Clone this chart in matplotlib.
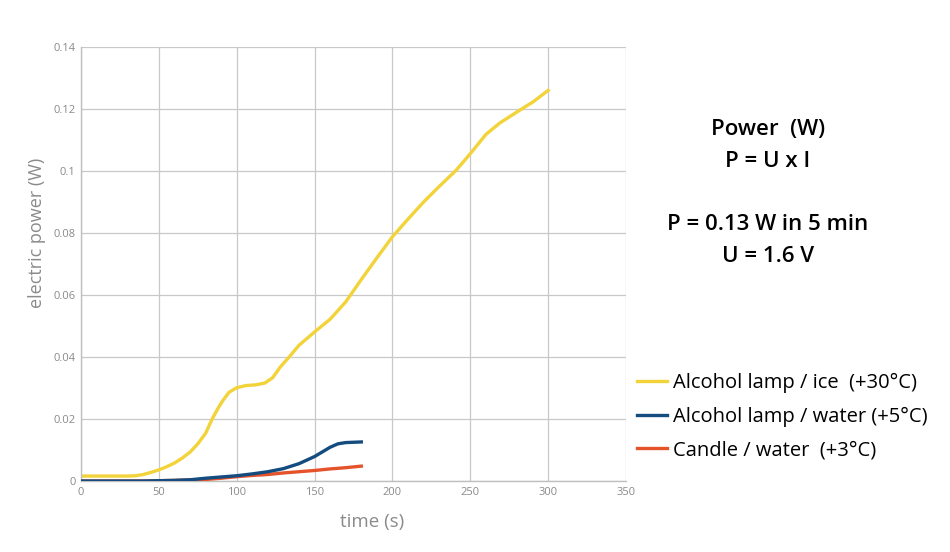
import numpy as np
import matplotlib.pyplot as plt

plt.rcParams['font.family'] = ['Open Sans', 'DejaVu Sans']

# values
t_ice = [0, 10, 20, 30, 35, 40, 45, 50, 55, 60, 65, 70, 75, 80, 84, 88, 91,
         95, 100, 106, 112, 118, 123, 128, 134, 140, 150, 160, 170, 180, 190,
         200, 210, 220, 230, 241, 251, 260, 269, 282, 290, 300]
p_ice = [0.0016, 0.0016, 0.0016, 0.0016, 0.0017, 0.0021, 0.0028, 0.0036,
         0.0046, 0.0058, 0.0074, 0.0093, 0.0120, 0.0154, 0.0198, 0.0235,
         0.0259, 0.0286, 0.0301, 0.0308, 0.0310, 0.0316, 0.0333, 0.0368,
         0.0402, 0.0438, 0.0481, 0.0522, 0.0578, 0.0650, 0.0720, 0.0788,
         0.0845, 0.0900, 0.0950, 0.1003, 0.1062, 0.1118, 0.1155, 0.1197,
         0.1222, 0.1260]

t_water = [0, 20, 40, 50, 60, 70, 80, 90, 100, 110, 120, 130, 140, 150,
           155, 160, 165, 170, 175, 180]
p_water = [0.0, 0.0, 0.0, 0.0001, 0.0002, 0.0004, 0.0009, 0.0013, 0.0017,
           0.0023, 0.0030, 0.0040, 0.0056, 0.0079, 0.0094, 0.0109, 0.0120,
           0.0124, 0.0125, 0.0126]

t_candle = [0, 20, 40, 60, 80, 90, 100, 110, 120, 130, 140, 150, 160, 170, 180]
p_candle = [0.0, 0.0, 0.0, 0.0002, 0.0005, 0.0009, 0.0014, 0.0018, 0.0021,
            0.0026, 0.0030, 0.0034, 0.0039, 0.0043, 0.0048]

labels = ['Alcohol lamp / ice  (+30°C)',
          'Alcohol lamp / water (+5°C)',
          'Candle / water  (+3°C)']
colors = ['#F2D33A', '#144C80', '#E5532B']

x_ticks = np.arange(0, 351, 50)
y_ticks = [0, 0.02, 0.04, 0.06, 0.08, 0.1, 0.12, 0.14]
y_tick_labels = ['0', '0.02', '0.04', '0.06', '0.08', '0.1', '0.12', '0.14']

note_lines = ['Power  (W)', 'P = U x I', 'P = 0.13 W in 5 min', 'U = 1.6 V']
note_rows = [130, 161, 224, 256]  # pixel rows of the note lines

fig = plt.figure(figsize=(9.5, 5.52), dpi=100)
ax = fig.add_axes([0.0853, 0.1286, 0.5737, 0.7863])

ax.plot(t_ice, p_ice, color=colors[0], lw=2.4, label=labels[0])
ax.plot(t_water, p_water, color=colors[1], lw=2.4, label=labels[1], zorder=4)
ax.plot(t_candle, p_candle, color=colors[2], lw=2.4, label=labels[2], zorder=3)

ax.set_xlim(0, 350)
ax.set_ylim(0, 0.14)
ax.set_xticks(x_ticks)
ax.set_yticks(y_ticks)
ax.set_yticklabels(y_tick_labels)
ax.tick_params(length=0, labelsize=8, colors='#8a8a8a', pad=4)
ax.grid(True, color='#c8c8c8', lw=0.9)
ax.set_axisbelow(True)
for side in ['top', 'right']:
    ax.spines[side].set_visible(False)
for side in ['left', 'bottom']:
    ax.spines[side].set_color('#bfbfbf')
    ax.spines[side].set_linewidth(1.0)

ax.set_xlabel('time (s)', fontsize=13.5, color='#8a8a8a')
ax.xaxis.set_label_coords(0.534, -0.094)
ax.set_ylabel('electric power (W)', fontsize=13, color='#8a8a8a')
ax.yaxis.set_label_coords(-0.081, 0.571)
ax.yaxis.label.set_va('center')
ax.xaxis.label.set_va('center')

# text block on the right
for line, row in zip(note_lines, note_rows):
    fig.text(768 / 950, 1 - row / 552, line, ha='center', va='center',
             fontsize=16, fontweight='semibold')

fig.legend(loc='upper left', bbox_to_anchor=(629 / 950, 1 - 364.5 / 552),
           frameon=False, fontsize=14.5, handlelength=1.5, handletextpad=0.3,
           labelspacing=0.69, borderaxespad=0)

fig.savefig('out.png', dpi=100)
